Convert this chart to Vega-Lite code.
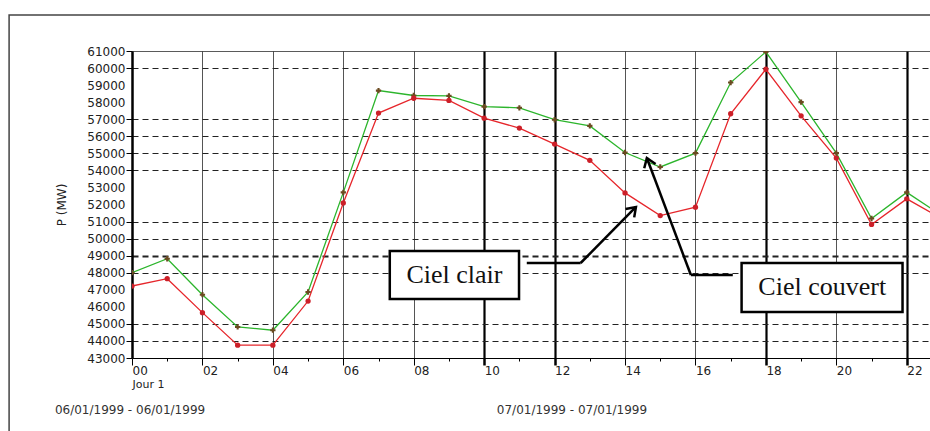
{
  "$schema": "https://vega.github.io/schema/vega-lite/v6.json",
  "width": 798,
  "height": 307,
  "autosize": {"type": "none"},
  "padding": {"left": 132, "top": 51, "right": 0, "bottom": 73},
  "background": "white",
  "config": {"view": {"stroke": null}, "font": "DejaVu Sans"},
  "datasets": {
    "load": [
      {"hour": 0, "P": 48000, "sky": "Ciel couvert"},
      {"hour": 1, "P": 48820, "sky": "Ciel couvert"},
      {"hour": 2, "P": 46710, "sky": "Ciel couvert"},
      {"hour": 3, "P": 44820, "sky": "Ciel couvert"},
      {"hour": 4, "P": 44630, "sky": "Ciel couvert"},
      {"hour": 5, "P": 46870, "sky": "Ciel couvert"},
      {"hour": 6, "P": 52710, "sky": "Ciel couvert"},
      {"hour": 7, "P": 58680, "sky": "Ciel couvert"},
      {"hour": 8, "P": 58390, "sky": "Ciel couvert"},
      {"hour": 9, "P": 58370, "sky": "Ciel couvert"},
      {"hour": 10, "P": 57740, "sky": "Ciel couvert"},
      {"hour": 11, "P": 57670, "sky": "Ciel couvert"},
      {"hour": 12, "P": 56970, "sky": "Ciel couvert"},
      {"hour": 13, "P": 56610, "sky": "Ciel couvert"},
      {"hour": 14, "P": 55050, "sky": "Ciel couvert"},
      {"hour": 15, "P": 54200, "sky": "Ciel couvert"},
      {"hour": 16, "P": 55010, "sky": "Ciel couvert"},
      {"hour": 17, "P": 59150, "sky": "Ciel couvert"},
      {"hour": 18, "P": 60950, "sky": "Ciel couvert"},
      {"hour": 19, "P": 58000, "sky": "Ciel couvert"},
      {"hour": 20, "P": 55010, "sky": "Ciel couvert"},
      {"hour": 21, "P": 51180, "sky": "Ciel couvert"},
      {"hour": 22, "P": 52710, "sky": "Ciel couvert"},
      {"hour": 23, "P": 51350, "sky": "Ciel couvert"},
      {"hour": 0, "P": 47220, "sky": "Ciel clair"},
      {"hour": 1, "P": 47650, "sky": "Ciel clair"},
      {"hour": 2, "P": 45660, "sky": "Ciel clair"},
      {"hour": 3, "P": 43750, "sky": "Ciel clair"},
      {"hour": 4, "P": 43750, "sky": "Ciel clair"},
      {"hour": 5, "P": 46340, "sky": "Ciel clair"},
      {"hour": 6, "P": 52090, "sky": "Ciel clair"},
      {"hour": 7, "P": 57360, "sky": "Ciel clair"},
      {"hour": 8, "P": 58230, "sky": "Ciel clair"},
      {"hour": 9, "P": 58100, "sky": "Ciel clair"},
      {"hour": 10, "P": 57060, "sky": "Ciel clair"},
      {"hour": 11, "P": 56480, "sky": "Ciel clair"},
      {"hour": 12, "P": 55540, "sky": "Ciel clair"},
      {"hour": 13, "P": 54590, "sky": "Ciel clair"},
      {"hour": 14, "P": 52680, "sky": "Ciel clair"},
      {"hour": 15, "P": 51350, "sky": "Ciel clair"},
      {"hour": 16, "P": 51840, "sky": "Ciel clair"},
      {"hour": 17, "P": 57320, "sky": "Ciel clair"},
      {"hour": 18, "P": 59930, "sky": "Ciel clair"},
      {"hour": 19, "P": 57200, "sky": "Ciel clair"},
      {"hour": 20, "P": 54720, "sky": "Ciel clair"},
      {"hour": 21, "P": 50830, "sky": "Ciel clair"},
      {"hour": 22, "P": 52330, "sky": "Ciel clair"},
      {"hour": 23, "P": 51170, "sky": "Ciel clair"}
    ]
  },
  "layer": [
    {
      "data": {"name": "load"},
      "mark": {"type": "line", "strokeWidth": 1.3, "clip": true},
      "encoding": {
        "x": {
          "field": "hour", "type": "quantitative",
          "scale": {"domain": [0, 22.66], "nice": false, "zero": false},
          "axis": {
            "values": [0,1,2,3,4,5,6,7,8,9,10,11,12,13,14,15,16,17,18,19,20,21,22],
            "tickCount": 60,
            "labelExpr": "datum.value % 2 === 0 ? (datum.value < 10 ? '0' + datum.value : '' + datum.value) : ''",
            "grid": true,
            "gridOpacity": {"condition": {"test": "datum.value % 2 === 1", "value": 0}, "value": 1},
            "gridColor": {"condition": {"test": "indexof([10,12,18,22], datum.value) >= 0", "value": "#000"}, "value": "#555"},
            "gridWidth": {"condition": {"test": "indexof([10,12,18,22], datum.value) >= 0", "value": 2.2}, "value": 1},
            "tickSize": {"condition": {"test": "datum.value % 2 === 1", "value": 3}, "value": 7},
            "tickWidth": {"condition": {"test": "indexof([10,12,18,22], datum.value) >= 0", "value": 2.5}, "value": 1},
            "tickColor": "#000",
            "domainColor": "#000",
            "domainWidth": 1,
            "labelAlign": "left",
            "labelFontSize": 12,
            "labelColor": "#222",
            "labelPadding": 0,
            "labelOverlap": false,
            "labelFlush": false,
            "title": "Jour 1",
            "titleAnchor": "start",
            "titleAlign": "left",
            "titleFontSize": 11,
            "titleFontWeight": "normal",
            "titleColor": "#222",
            "titlePadding": 2
          }
        },
        "y": {
          "field": "P", "type": "quantitative",
          "scale": {"domain": [43000, 61000], "nice": false, "zero": false},
          "axis": {
            "values": [43000,44000,45000,46000,47000,48000,49000,50000,51000,52000,53000,54000,55000,56000,57000,58000,59000,60000,61000],
            "tickCount": 60,
            "format": "d",
            "grid": true,
            "gridOpacity": {"condition": {"test": "indexof([59000,58000,53000,52000,47000,46000,43000], datum.value) >= 0", "value": 0}, "value": 1},
            "gridDash": {"condition": {"test": "datum.value === 61000", "value": [1, 0]}, "value": [6, 4]},
            "gridWidth": {"condition": {"test": "datum.value === 49000", "value": 2}, "value": 1},
            "gridColor": "#222",
            "tickColor": "#000",
            "tickOpacity": {"condition": {"test": "indexof([59000,58000,53000,52000,47000,46000], datum.value) >= 0", "value": 0}, "value": 1},
            "tickSize": 6,
            "domainColor": "#000",
            "domainWidth": 2.5,
            "labelFontSize": 12,
            "labelPadding": 1,
            "labelColor": "#222",
            "labelOverlap": false,
            "title": "P (MW)",
            "titleFontSize": 12,
            "titleFontWeight": "normal",
            "titleColor": "#222",
            "titlePadding": 18
          }
        },
        "color": {
          "field": "sky", "type": "nominal",
          "scale": {"domain": ["Ciel couvert", "Ciel clair"], "range": ["#2cb52c", "#e6262b"]},
          "legend": null
        }
      }
    },
    {
      "data": {"name": "load"},
      "mark": {"type": "point", "filled": true, "size": 28, "opacity": 1, "clip": true},
      "encoding": {
        "x": {"field": "hour", "type": "quantitative"},
        "y": {"field": "P", "type": "quantitative"},
        "fill": {"condition": {"test": "datum.sky === 'Ciel couvert'", "value": "#6b4a20"}, "value": "#cc1f28"},
        "shape": {"condition": {"test": "datum.sky === 'Ciel couvert'", "value": "cross"}, "value": "circle"}
      }
    },
    {
      "data": {"values": [{}]},
      "mark": {"type": "rect", "fillOpacity": 0, "stroke": "#444", "strokeWidth": 1.5, "clip": false},
      "encoding": {
        "x": {"datum": -3.49, "type": "quantitative"},
        "x2": {"datum": 40},
        "y": {"datum": 63110, "type": "quantitative"},
        "y2": {"datum": 20000}
      }
    },
    {
      "data": {"values": [{}]},
      "mark": {"type": "rect", "fill": "white", "stroke": "#000", "strokeWidth": 2.5, "clip": false},
      "encoding": {
        "x": {"datum": 7.32, "type": "quantitative"},
        "x2": {"datum": 10.99},
        "y": {"datum": 49274, "type": "quantitative"},
        "y2": {"datum": 46460}
      }
    },
    {
      "data": {"values": [{}]},
      "mark": {"type": "rect", "fill": "white", "stroke": "#000", "strokeWidth": 2.5, "clip": false},
      "encoding": {
        "x": {"datum": 17.31, "type": "quantitative"},
        "x2": {"datum": 21.88},
        "y": {"datum": 48570, "type": "quantitative"},
        "y2": {"datum": 45697}
      }
    },
    {
      "data": {"values": [{}]},
      "mark": {"type": "text", "text": "Ciel clair", "font": "Liberation Serif", "fontSize": 26, "color": "#111", "align": "center", "baseline": "middle", "clip": false},
      "encoding": {
        "x": {"datum": 9.155, "type": "quantitative"},
        "y": {"datum": 47867, "type": "quantitative"}
      }
    },
    {
      "data": {"values": [{}]},
      "mark": {"type": "text", "text": "Ciel couvert", "font": "Liberation Serif", "fontSize": 26, "color": "#111", "align": "center", "baseline": "middle", "clip": false},
      "encoding": {
        "x": {"datum": 19.6, "type": "quantitative"},
        "y": {"datum": 47134, "type": "quantitative"}
      }
    },
    {
      "data": {"values": [{}]},
      "mark": {"type": "rule", "stroke": "#000", "strokeWidth": 2.5, "clip": false},
      "encoding": {
        "x": {"datum": 11.21, "type": "quantitative"},
        "x2": {"datum": 12.74},
        "y": {"datum": 48570, "type": "quantitative"},
        "y2": {"datum": 48570}
      }
    },
    {
      "data": {"values": [{}]},
      "mark": {"type": "rule", "stroke": "#000", "strokeWidth": 2.5, "clip": false},
      "encoding": {
        "x": {"datum": 12.74, "type": "quantitative"},
        "x2": {"datum": 14.31},
        "y": {"datum": 48570, "type": "quantitative"},
        "y2": {"datum": 51854}
      }
    },
    {
      "data": {"values": [{}]},
      "mark": {"type": "rule", "stroke": "#000", "strokeWidth": 2.5, "clip": false},
      "encoding": {
        "x": {"datum": 17.06, "type": "quantitative"},
        "x2": {"datum": 15.87},
        "y": {"datum": 47867, "type": "quantitative"},
        "y2": {"datum": 47867}
      }
    },
    {
      "data": {"values": [{}]},
      "mark": {"type": "rule", "stroke": "#000", "strokeWidth": 2.5, "clip": false},
      "encoding": {
        "x": {"datum": 15.87, "type": "quantitative"},
        "x2": {"datum": 14.62},
        "y": {"datum": 47867, "type": "quantitative"},
        "y2": {"datum": 54727}
      }
    },
    {
      "data": {"values": [{}]},
      "mark": {"type": "point", "shape": "M -0.7 1 L 0 0 L 0.7 1", "filled": false, "stroke": "#000", "strokeWidth": 2.5, "size": 300, "angle": 44.5, "opacity": 1, "clip": false},
      "encoding": {
        "x": {"datum": 14.31, "type": "quantitative"},
        "y": {"datum": 51854, "type": "quantitative"}
      }
    },
    {
      "data": {"values": [{}]},
      "mark": {"type": "point", "shape": "M -0.7 1 L 0 0 L 0.7 1", "filled": false, "stroke": "#000", "strokeWidth": 2.5, "size": 300, "angle": -20.6, "opacity": 1, "clip": false},
      "encoding": {
        "x": {"datum": 14.62, "type": "quantitative"},
        "y": {"datum": 54727, "type": "quantitative"}
      }
    },
    {
      "data": {"values": [{}]},
      "mark": {"type": "text", "text": "06/01/1999 - 06/01/1999", "fontSize": 12, "color": "#333", "align": "left", "baseline": "middle", "clip": false},
      "encoding": {
        "x": {"datum": -2.19, "type": "quantitative"},
        "y": {"datum": 39952, "type": "quantitative"}
      }
    },
    {
      "data": {"values": [{}]},
      "mark": {"type": "text", "text": "07/01/1999 - 07/01/1999", "fontSize": 12, "color": "#333", "align": "left", "baseline": "middle", "clip": false},
      "encoding": {
        "x": {"datum": 10.36, "type": "quantitative"},
        "y": {"datum": 39952, "type": "quantitative"}
      }
    }
  ]
}
